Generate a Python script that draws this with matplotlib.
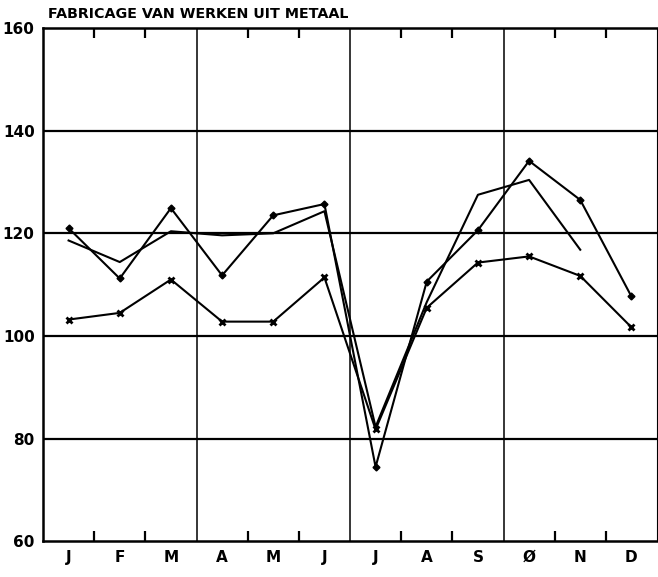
import matplotlib
matplotlib.use("Agg")
import matplotlib.pyplot as plt
import numpy as np

title = "FABRICAGE VAN WERKEN UIT METAAL"
months = ["J", "F", "M", "A", "M", "J", "J", "A", "S", "Ø", "N", "D"]
series_diamond = [121.0, 111.2, 124.9, 111.8, 123.5, 125.7, 74.5, 110.6, 120.6, 134.1, 126.5, 107.7]
series_plain = [118.6, 114.4, 120.4, 119.6, 120.0, 124.3, 82.3, 106.6, 127.5, 130.4, 116.8]
series_cross = [103.2, 104.5, 111.0, 102.8, 102.8, 111.4, 81.8, 105.5, 114.3, 115.5, 111.7, 101.7]
y_ticks = [60, 80, 100, 120, 140, 160]

fig = plt.figure(figsize=(6.58, 5.77), dpi=100)
ax = fig.add_axes([43/658, 35.6/577, 614/658, 513.5/577])
x = np.arange(len(months)) + 0.5

ax.set_xlim(0, 12)
ax.set_ylim(60, 160)

for yv in [80, 100, 120, 140]:
    ax.axhline(yv, color="black", lw=1.6, zorder=1)
for xv in [3, 6, 9]:
    ax.axvline(xv, color="black", lw=1.1, zorder=1)

ax.plot(x, series_diamond, color="black", lw=1.5, marker="D", ms=3.5, zorder=3)
ax.plot(x[:len(series_plain)], series_plain, color="black", lw=1.5, zorder=3)
ax.plot(x, series_cross, color="black", lw=1.5, marker="x", ms=5, mew=2, zorder=3)

for s in ["left", "top", "bottom"]:
    ax.spines[s].set_linewidth(1.8)
ax.spines["right"].set_linewidth(0.8)

ax.set_xticks([1, 2, 4, 5, 7, 8, 10, 11])
ax.set_xticklabels([])
ax.tick_params(axis="x", which="major", direction="in", top=True, bottom=True,
               length=7, width=1.6)
ax.set_xticks(x, minor=True)
ax.set_xticklabels(months, minor=True, fontsize=11, fontweight="bold")
ax.tick_params(axis="x", which="minor", length=0, pad=6)

ax.set_yticks(y_ticks)
ax.set_yticklabels([str(v) for v in y_ticks], fontsize=11, fontweight="bold")
ax.tick_params(axis="y", length=0, pad=6)

fig.text(48/658, 1 - 14/577, title, fontsize=10.3, fontweight="heavy",
         va="center", ha="left")

fig.savefig("out.png", dpi=100)
